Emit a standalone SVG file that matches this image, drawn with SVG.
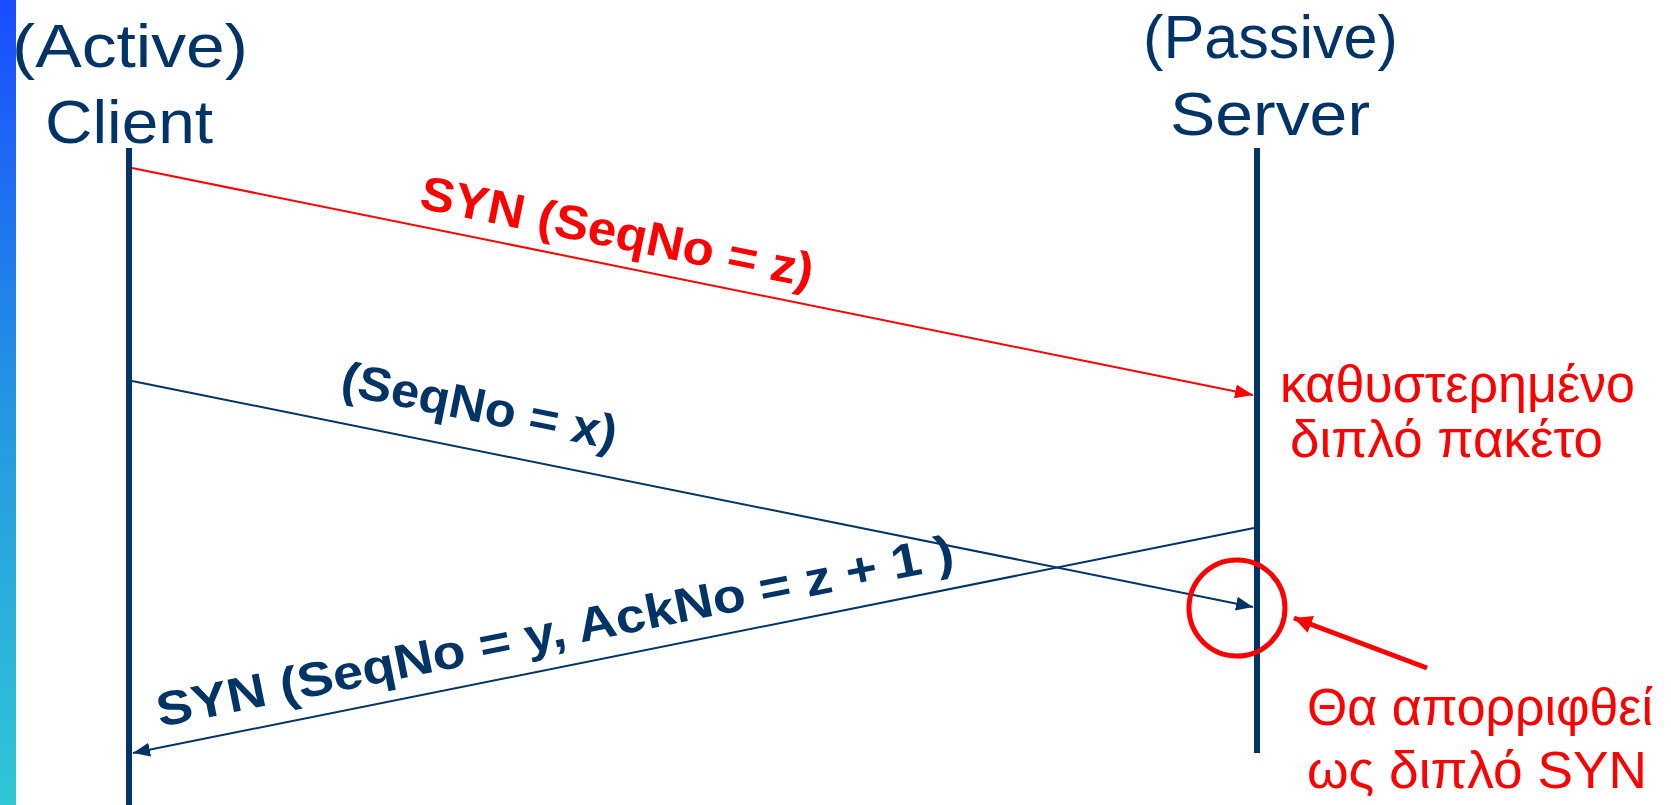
<svg xmlns="http://www.w3.org/2000/svg" width="1671" height="805" viewBox="0 0 1671 805">
<defs>
<linearGradient id="bar" x1="0" y1="0" x2="0" y2="1">
<stop offset="0" stop-color="#1a4cff"/>
<stop offset="0.5" stop-color="#2496e2"/>
<stop offset="1" stop-color="#30c6d4"/>
</linearGradient>
<marker id="ahRed" viewBox="0 0 18 14" refX="18" refY="7" markerWidth="18" markerHeight="14" markerUnits="userSpaceOnUse" orient="auto">
<path d="M0,0 L18,7 L0,14 z" fill="#ff0000"/>
</marker>
<marker id="ahBlue" viewBox="0 0 17 14" refX="17" refY="7" markerWidth="17" markerHeight="14" markerUnits="userSpaceOnUse" orient="auto">
<path d="M0,0 L17,7 L0,14 z" fill="#003366"/>
</marker>
<marker id="ahBig" viewBox="0 0 18 18" refX="18" refY="9" markerWidth="18" markerHeight="18" markerUnits="userSpaceOnUse" orient="auto">
<path d="M0,0 L18,9 L0,18 z" fill="#ff0000"/>
</marker>
</defs>
<style>
.hdr{font-family:"Liberation Sans","DejaVu Sans",sans-serif;font-size:61px;fill:#003366}
.lbl{font-family:"Liberation Sans","DejaVu Sans",sans-serif;font-size:48px;font-weight:bold}
.note{font-family:"Liberation Sans","DejaVu Sans",sans-serif;font-size:51px;fill:#ff0000}
.life{stroke:#003366;stroke-width:6;fill:none}
.msgR{stroke:#ff0000;stroke-width:2;fill:none}
.msgB{stroke:#003366;stroke-width:2;fill:none}
</style>
<rect x="0" y="0" width="1671" height="805" fill="#ffffff"/>
<rect x="0" y="0" width="16" height="805" fill="url(#bar)"/>

<g id="client">
<text class="hdr" x="12" y="67" textLength="236" lengthAdjust="spacingAndGlyphs">(Active)</text>
<text class="hdr" x="45" y="143" textLength="168" lengthAdjust="spacingAndGlyphs">Client</text>
<line class="life" x1="129" y1="148" x2="129" y2="805"/>
</g>

<g id="server">
<text class="hdr" x="1143" y="58" textLength="255" lengthAdjust="spacingAndGlyphs">(Passive)</text>
<text class="hdr" x="1170" y="135" textLength="200" lengthAdjust="spacingAndGlyphs">Server</text>
<line class="life" x1="1257" y1="148" x2="1257" y2="753"/>
</g>

<g id="connectors">
<line class="msgR" x1="132" y1="168" x2="1253" y2="395" marker-end="url(#ahRed)"/>
<line class="msgB" x1="132" y1="381" x2="1253" y2="607" marker-end="url(#ahBlue)"/>
<line class="msgB" x1="1254" y1="528" x2="133" y2="753" marker-end="url(#ahBlue)"/>
<line stroke="#ff0000" stroke-width="5" x1="1427" y1="668" x2="1294" y2="618" marker-end="url(#ahBig)"/>
</g>

<g id="labels">
<text class="lbl" fill="#ff0000" transform="translate(418,208) rotate(11.45)" textLength="400" lengthAdjust="spacingAndGlyphs">SYN (SeqNo = z)</text>
<text class="lbl" fill="#003366" transform="translate(339,394) rotate(11.45)" textLength="280" lengthAdjust="spacingAndGlyphs">(SeqNo = x)</text>
<text class="lbl" fill="#003366" transform="translate(160,727) rotate(-11.35)" textLength="812" lengthAdjust="spacingAndGlyphs">SYN (SeqNo = y, AckNo = z + 1 )</text>
</g>

<g id="delayed-note">
<text class="note" x="1280" y="402" textLength="355" lengthAdjust="spacingAndGlyphs">καθυστερημένο</text>
<text class="note" x="1290" y="457" textLength="313" lengthAdjust="spacingAndGlyphs">διπλό πακέτο</text>
</g>

<g id="reject-note">
<circle cx="1237" cy="608" r="48" fill="none" stroke="#ff0000" stroke-width="5"/>
<text class="note" x="1307" y="725" textLength="346" lengthAdjust="spacingAndGlyphs">Θα απορριφθεί</text>
<text class="note" x="1307" y="788" textLength="340" lengthAdjust="spacingAndGlyphs">ως διπλό SYN</text>
</g>
</svg>
